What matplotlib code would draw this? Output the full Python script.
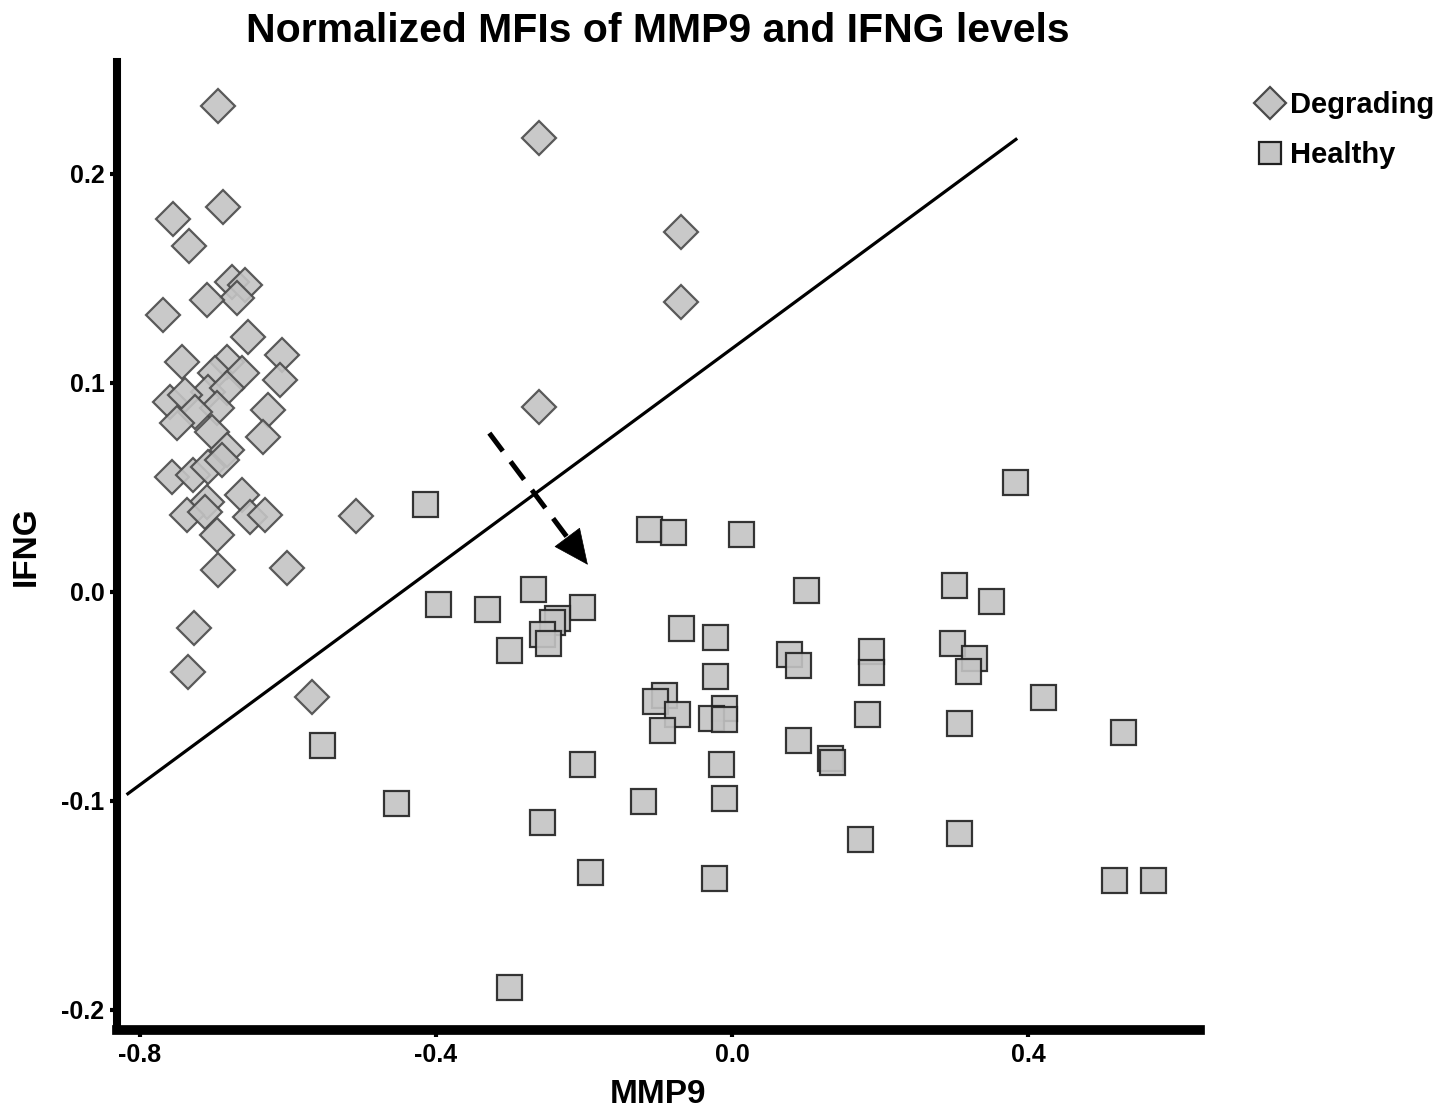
import matplotlib.pyplot as plt
from matplotlib.lines import Line2D

plt.rcParams['font.family'] = ['Liberation Sans', 'DejaVu Sans']
plt.rcParams['font.weight'] = 'bold'

# -------------------------
# Data
# -------------------------
degrading_mmp9 = [-0.695, -0.261, -0.755, -0.688, -0.734, -0.069, -0.676, -0.658, -0.669, -0.709,
                  -0.769, -0.069, -0.654, -0.743, -0.608, -0.682, -0.699, -0.662, -0.611, -0.708,
                  -0.682, -0.759, -0.739, -0.696, -0.726, -0.750, -0.627, -0.703, -0.682, -0.634,
                  -0.261, -0.757, -0.728, -0.708, -0.689, -0.709, -0.736, -0.712, -0.662, -0.651,
                  -0.631, -0.696, -0.508, -0.695, -0.601, -0.727, -0.735, -0.568]
degrading_ifng = [0.2325, 0.2172, 0.1785, 0.1842, 0.1656, 0.1722, 0.1483, 0.1469, 0.1407, 0.1397,
                  0.1325, 0.1388, 0.1220, 0.1100, 0.1134, 0.1100, 0.1048, 0.1048, 0.1014, 0.0957,
                  0.0976, 0.0909, 0.0943, 0.0880, 0.0861, 0.0809, 0.0871, 0.0766, 0.0679, 0.0742,
                  0.0885, 0.0550, 0.0560, 0.0598, 0.0632, 0.0431, 0.0368, 0.0383, 0.0464, 0.0359,
                  0.0368, 0.0273, 0.0364, 0.0105, 0.0115, -0.0172, -0.0383, -0.0502]

healthy_mmp9 = [-0.415, -0.112, -0.080, 0.012, 0.382, -0.269, -0.397, -0.331, -0.203, -0.236,
                -0.243, -0.257, -0.249, -0.301, -0.069, -0.023, 0.100, 0.300, 0.349, 0.077,
                0.089, 0.188, 0.188, 0.297, 0.326, 0.318, -0.023, -0.092, -0.104, -0.074,
                -0.095, -0.011, -0.028, -0.011, 0.182, 0.307, 0.089, 0.132, 0.135, -0.203,
                -0.015, -0.120, -0.011, 0.307, 0.172, -0.024, -0.554, -0.454, -0.257, -0.192,
                -0.301, 0.420, 0.528, 0.516, 0.569]
healthy_ifng = [0.0421, 0.0301, 0.0287, 0.0278, 0.0526, 0.0014, -0.0057, -0.0081, -0.0072, -0.0124,
                -0.0144, -0.0201, -0.0244, -0.0278, -0.0172, -0.0215, 0.0010, 0.0033, -0.0043, -0.0297,
                -0.0349, -0.0282, -0.0383, -0.0244, -0.0316, -0.0378, -0.0402, -0.0493, -0.0522, -0.0584,
                -0.0660, -0.0555, -0.0603, -0.0608, -0.0584, -0.0627, -0.0708, -0.0794, -0.0813, -0.0823,
                -0.0823, -0.1000, -0.0986, -0.1153, -0.1182, -0.1368, -0.0732, -0.1010, -0.1100, -0.1340,
                -0.1890, -0.0502, -0.0670, -0.1378, -0.1378]

# separating line and arrow (data units)
sep_x = [-0.818, 0.385]
sep_y = [-0.097, 0.217]
arrow_start = (-0.328, 0.076)
arrow_end = (-0.195, 0.013)

x_ticks = [-0.8, -0.4, 0.0, 0.4]
y_ticks = [-0.2, -0.1, 0.0, 0.1, 0.2]

# -------------------------
# Plot
# -------------------------
fig = plt.figure(figsize=(14.49, 11.14), dpi=100)
ax = fig.add_axes([0.0807, 0.0754, 0.7475, 0.869])

fill = '#c4c4c4'
ax.plot(degrading_mmp9, degrading_ifng, linestyle='none', marker='D', ms=17.5,
        mfc=fill, mec='#4a4a4a', mew=1.6, alpha=0.9)
ax.plot(healthy_mmp9, healthy_ifng, linestyle='none', marker='s', ms=18,
        mfc=fill, mec='#202020', mew=1.6, alpha=0.9)

ax.plot(sep_x, sep_y, color='black', lw=2.3, solid_capstyle='butt')

# dashed shaft, stopping under the head, then a solid head
frac = 0.85
shaft_end = (arrow_start[0] + frac * (arrow_end[0] - arrow_start[0]),
             arrow_start[1] + frac * (arrow_end[1] - arrow_start[1]))
ax.plot([arrow_start[0], shaft_end[0]], [arrow_start[1], shaft_end[1]],
        color='black', lw=3.6, linestyle=(0, (4.5, 2.6)), dash_capstyle='butt')
ax.annotate('', xy=arrow_end, xytext=shaft_end,
            arrowprops=dict(arrowstyle='-|>,head_length=1.2,head_width=0.55',
                            color='black', lw=0.5, shrinkA=0, shrinkB=0,
                            mutation_scale=20))

ax.set_xlim(-0.831, 0.632)
ax.set_ylim(-0.2096, 0.2536)
ax.set_xticks(x_ticks)
ax.set_xticklabels(['-0.8', '-0.4', '0.0', '0.4'])
ax.set_yticks(y_ticks)
ax.set_yticklabels(['-0.2', '-0.1', '0.0', '0.1', '0.2'])

for side in ['top', 'right']:
    ax.spines[side].set_visible(False)
ax.spines['left'].set_linewidth(5.8)
ax.spines['bottom'].set_linewidth(7)
ax.tick_params(axis='both', length=5, width=3, labelsize=18, pad=4)

ax.set_xlabel('MMP9', fontsize=24, fontweight='bold', labelpad=9)
ax.set_ylabel('IFNG', fontsize=24, fontweight='bold', labelpad=14)
fig.suptitle('Normalized MFIs of MMP9 and IFNG levels', x=0.454, y=0.989,
             fontsize=29.5, fontweight='bold', va='top')

handles = [
    Line2D([], [], linestyle='none', marker='D', ms=16, mfc=fill, mec='#4a4a4a', mew=1.6),
    Line2D([], [], linestyle='none', marker='s', ms=16, mfc=fill, mec='#202020', mew=1.6),
]
fig.legend(handles, ['Degrading', 'Healthy'], loc='upper left',
           bbox_to_anchor=(0.846, 0.942), frameon=False, fontsize=21,
           handletextpad=0.1, labelspacing=0.75, handlelength=1.2)

fig.savefig('out.png', dpi=100)
